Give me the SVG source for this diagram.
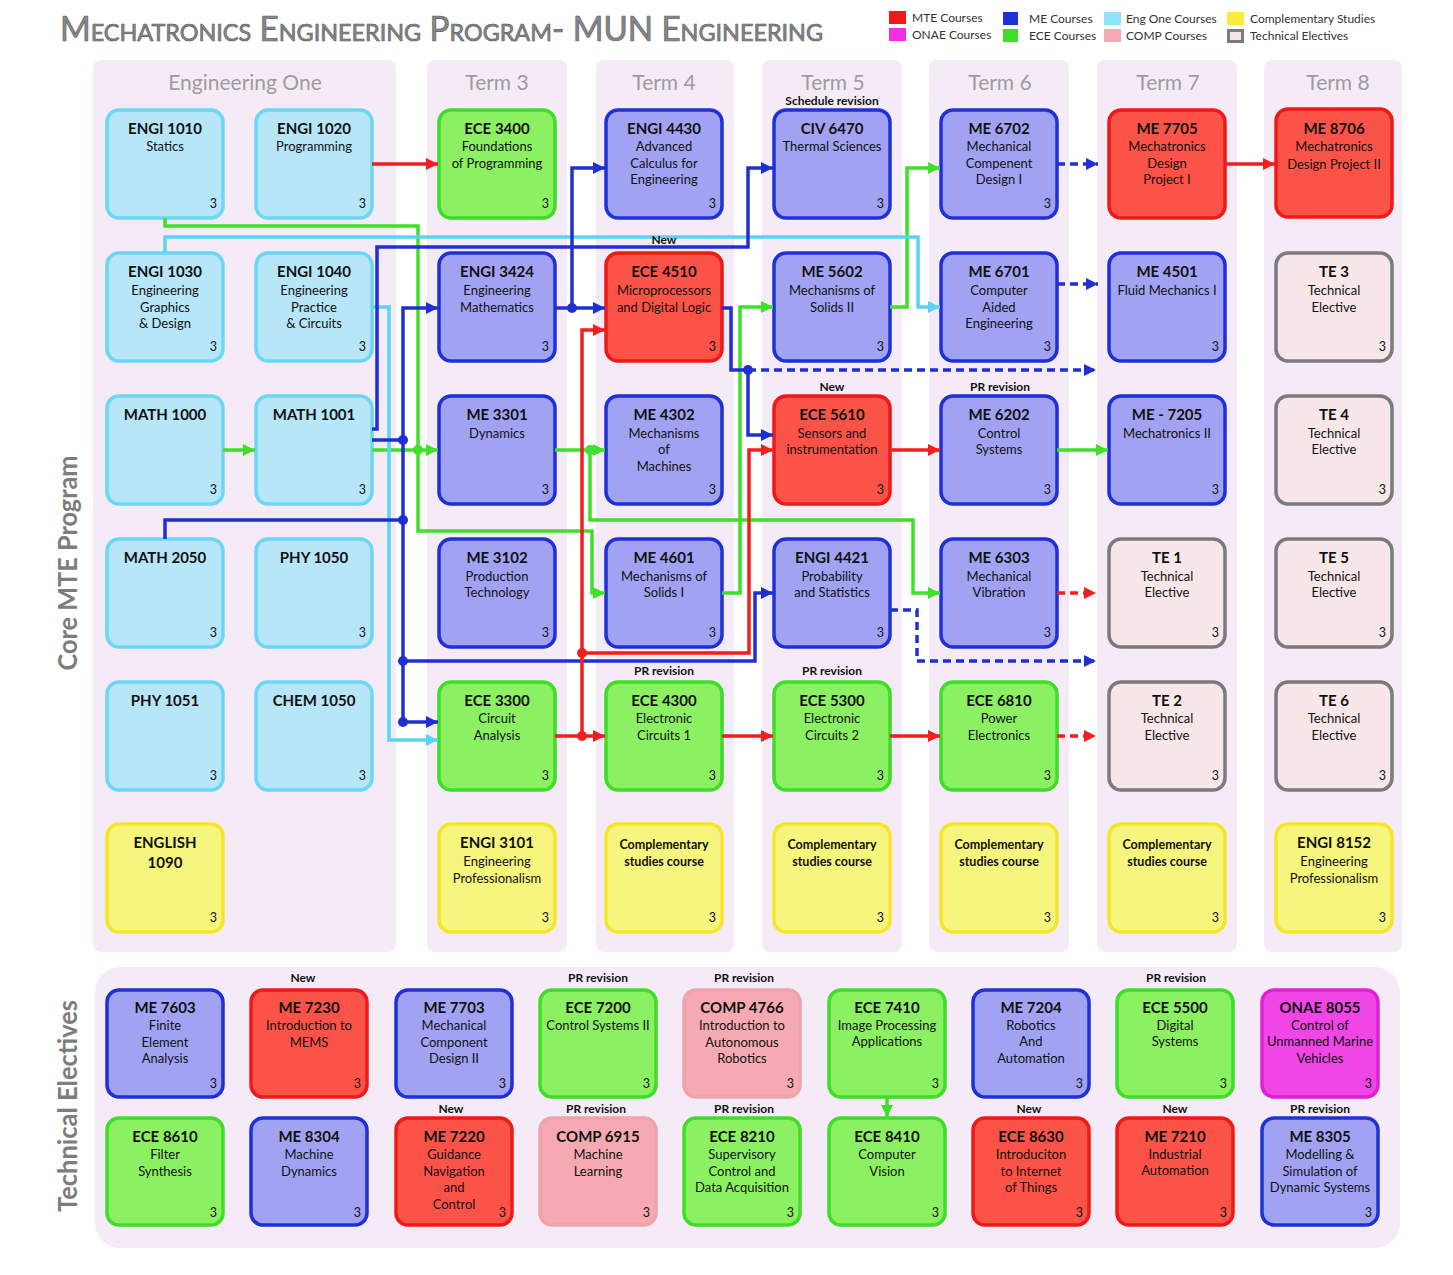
<svg xmlns="http://www.w3.org/2000/svg" width="1453" height="1275" viewBox="0 0 1453 1275">
<defs>
<style>
text{font-family:Lato,"Liberation Sans",sans-serif}
.band{fill:#f5ebf7}
.n rect{stroke-width:3.5}
.mte rect{fill:#fb5347;stroke:#ee1a1a}
.me rect{fill:#a2a2f3;stroke:#1f30d6}
.ece rect{fill:#8cf063;stroke:#3edd27}
.one rect{fill:#b6e6f8;stroke:#6cd7f4}
.cs rect{fill:#f6f57d;stroke:#f5e52a}
.comp rect{fill:#f5aab3;stroke:#f1a3ac}
.onae rect{fill:#ef46e5;stroke:#e01fd6}
.te rect{fill:#f7e7e9;stroke:#7b7b7b}
.c{font-size:15px;font-weight:bold;text-anchor:middle;fill:#111}
.cb{font-size:12.5px;font-weight:bold;text-anchor:middle;fill:#111}
.d{font-size:13px;text-anchor:middle;fill:#111}
.cr{font-size:12.5px;text-anchor:end;fill:#111}
.lab{font-size:12px;font-weight:bold;text-anchor:middle;fill:#111}
.hdr{font-size:21px;text-anchor:middle;fill:#9c9c9c}
.leg{font-size:12px;fill:#333}
.side{font-size:27px;font-weight:bold;text-anchor:middle;fill:#7d7d7d}
.w{fill:none;stroke-width:3.5}
.r{stroke:#f21d1d}
.b{stroke:#1f2fd3}
.g{stroke:#3fe02a}
.cy{stroke:#5bd3f3}
.dash{stroke-dasharray:8 5}
</style>
<marker id="ar" viewBox="0 0 10 10" refX="10" refY="5" markerWidth="14" markerHeight="12" markerUnits="userSpaceOnUse" orient="auto"><path d="M0,0 L10,5 L0,10 z" fill="#f21d1d"/></marker>
<marker id="ab" viewBox="0 0 10 10" refX="10" refY="5" markerWidth="14" markerHeight="12" markerUnits="userSpaceOnUse" orient="auto"><path d="M0,0 L10,5 L0,10 z" fill="#1f2fd3"/></marker>
<marker id="ag" viewBox="0 0 10 10" refX="10" refY="5" markerWidth="14" markerHeight="12" markerUnits="userSpaceOnUse" orient="auto"><path d="M0,0 L10,5 L0,10 z" fill="#3fe02a"/></marker>
<marker id="ac" viewBox="0 0 10 10" refX="10" refY="5" markerWidth="14" markerHeight="12" markerUnits="userSpaceOnUse" orient="auto"><path d="M0,0 L10,5 L0,10 z" fill="#5bd3f3"/></marker>
</defs>
<rect width="1453" height="1275" fill="#fff"/>

<!-- title and legend -->
<text x="60" y="41" font-size="34" font-variant="small-caps" fill="#85888a" stroke="#5f6264" stroke-width="0.7" textLength="763" lengthAdjust="spacingAndGlyphs">Mechatronics Engineering Program- MUN Engineering</text>
<g id="legend">
<rect x="889" y="11" width="17" height="13" fill="#f01818"/><text class="leg" x="912" y="22">MTE Courses</text>
<rect x="889" y="28" width="17" height="13" fill="#ef2ee5"/><text class="leg" x="912" y="39">ONAE Courses</text>
<rect x="1003" y="12" width="15" height="13" fill="#1f30d6"/><text class="leg" x="1029" y="23">ME Courses</text>
<rect x="1003" y="29" width="15" height="13" fill="#3edd27"/><text class="leg" x="1029" y="40">ECE Courses</text>
<rect x="1104" y="12" width="17" height="13" fill="#8fe3f8"/><text class="leg" x="1126" y="23">Eng One Courses</text>
<rect x="1104" y="29" width="17" height="13" fill="#f5aab3"/><text class="leg" x="1126" y="40">COMP Courses</text>
<rect x="1227" y="12" width="17" height="13" fill="#f6ee3a"/><text class="leg" x="1250" y="23">Complementary Studies</text>
<rect x="1228.5" y="30.5" width="14" height="11" fill="#f7e7e9" stroke="#7b7b7b" stroke-width="3"/><text class="leg" x="1250" y="40">Technical Electives</text>
</g>

<!-- bands -->
<g id="bands">
<rect class="band" x="93" y="60" width="303" height="892" rx="8"/>
<rect class="band" x="427" y="60" width="140" height="892" rx="8"/>
<rect class="band" x="596" y="60" width="138" height="892" rx="8"/>
<rect class="band" x="762" y="60" width="140" height="892" rx="8"/>
<rect class="band" x="929" y="60" width="140" height="892" rx="8"/>
<rect class="band" x="1097" y="60" width="140" height="892" rx="8"/>
<rect class="band" x="1264" y="60" width="138" height="892" rx="8"/>
<rect class="band" x="95" y="967" width="1305" height="281" rx="25"/>
</g>
<g id="headers">
<text class="hdr" x="245" y="90">Engineering One</text>
<text class="hdr" x="497" y="90">Term 3</text>
<text class="hdr" x="664" y="90">Term 4</text>
<text class="hdr" x="833" y="90">Term 5</text>
<text class="hdr" x="1000" y="90">Term 6</text>
<text class="hdr" x="1168" y="90">Term 7</text>
<text class="hdr" x="1338" y="90">Term 8</text>
<text class="side" transform="translate(77,563) rotate(-90)" textLength="215" lengthAdjust="spacingAndGlyphs">Core MTE Program</text>
<text class="side" transform="translate(77,1106) rotate(-90)" textLength="212" lengthAdjust="spacingAndGlyphs">Technical Electives</text>
</g>

<!-- core nodes -->
<g id="engi1010" class="n one"><rect x="107" y="110" width="116" height="108" rx="12"/><text class="c" x="165" y="134">ENGI 1010</text><text class="d" x="165" y="151">Statics</text><text class="cr" x="217" y="208">3</text></g>
<g id="engi1020" class="n one"><rect x="256" y="110" width="116" height="108" rx="12"/><text class="c" x="314" y="134">ENGI 1020</text><text class="d" x="314" y="151">Programming</text><text class="cr" x="366" y="208">3</text></g>
<g id="ece3400" class="n ece"><rect x="439" y="110" width="116" height="108" rx="12"/><text class="c" x="497" y="134">ECE 3400</text><text class="d" x="497" y="151">Foundations</text><text class="d" x="497" y="168">of Programming</text><text class="cr" x="549" y="208">3</text></g>
<g id="engi4430" class="n me"><rect x="606" y="110" width="116" height="108" rx="12"/><text class="c" x="664" y="134">ENGI 4430</text><text class="d" x="664" y="151">Advanced</text><text class="d" x="664" y="168">Calculus for</text><text class="d" x="664" y="184">Engineering</text><text class="cr" x="716" y="208">3</text></g>
<g id="civ6470" class="n me"><rect x="774" y="110" width="116" height="108" rx="12"/><text class="c" x="832" y="134">CIV 6470</text><text class="d" x="832" y="151">Thermal Sciences</text><text class="cr" x="884" y="208">3</text></g>
<g id="me6702" class="n me"><rect x="941" y="110" width="116" height="108" rx="12"/><text class="c" x="999" y="134">ME 6702</text><text class="d" x="999" y="151">Mechanical</text><text class="d" x="999" y="168">Compenent</text><text class="d" x="999" y="184">Design I</text><text class="cr" x="1051" y="208">3</text></g>
<g id="me7705" class="n mte"><rect x="1109" y="110" width="116" height="108" rx="12"/><text class="c" x="1167" y="134">ME 7705</text><text class="d" x="1167" y="151">Mechatronics</text><text class="d" x="1167" y="168">Design</text><text class="d" x="1167" y="184">Project I</text></g>
<g id="me8706" class="n mte"><rect x="1276" y="109" width="116" height="108" rx="12"/><text class="c" x="1334" y="134">ME 8706</text><text class="d" x="1334" y="151">Mechatronics</text><text class="d" x="1334" y="169">Design Project II</text></g>

<g id="engi1030" class="n one"><rect x="107" y="253" width="116" height="108" rx="12"/><text class="c" x="165" y="277">ENGI 1030</text><text class="d" x="165" y="295">Engineering</text><text class="d" x="165" y="312">Graphics</text><text class="d" x="165" y="328">&amp; Design</text><text class="cr" x="217" y="351">3</text></g>
<g id="engi1040" class="n one"><rect x="256" y="253" width="116" height="108" rx="12"/><text class="c" x="314" y="277">ENGI 1040</text><text class="d" x="314" y="295">Engineering</text><text class="d" x="314" y="312">Practice</text><text class="d" x="314" y="328">&amp; Circuits</text><text class="cr" x="366" y="351">3</text></g>
<g id="engi3424" class="n me"><rect x="439" y="253" width="116" height="108" rx="12"/><text class="c" x="497" y="277">ENGI 3424</text><text class="d" x="497" y="295">Engineering</text><text class="d" x="497" y="312">Mathematics</text><text class="cr" x="549" y="351">3</text></g>
<g id="ece4510" class="n mte"><rect x="606" y="253" width="116" height="108" rx="12"/><text class="c" x="664" y="277">ECE 4510</text><text class="d" x="664" y="295">Microprocessors</text><text class="d" x="664" y="312">and Digital Logic</text><text class="cr" x="716" y="351">3</text></g>
<g id="me5602" class="n me"><rect x="774" y="253" width="116" height="108" rx="12"/><text class="c" x="832" y="277">ME 5602</text><text class="d" x="832" y="295">Mechanisms of</text><text class="d" x="832" y="312">Solids II</text><text class="cr" x="884" y="351">3</text></g>
<g id="me6701" class="n me"><rect x="941" y="253" width="116" height="108" rx="12"/><text class="c" x="999" y="277">ME 6701</text><text class="d" x="999" y="295">Computer</text><text class="d" x="999" y="312">Aided</text><text class="d" x="999" y="328">Engineering</text><text class="cr" x="1051" y="351">3</text></g>
<g id="me4501" class="n me"><rect x="1109" y="253" width="116" height="108" rx="12"/><text class="c" x="1167" y="277">ME 4501</text><text class="d" x="1167" y="295">Fluid Mechanics I</text><text class="cr" x="1219" y="351">3</text></g>
<g id="te3" class="n te"><rect x="1276" y="253" width="116" height="108" rx="12"/><text class="c" x="1334" y="277">TE 3</text><text class="d" x="1334" y="295">Technical</text><text class="d" x="1334" y="312">Elective</text><text class="cr" x="1386" y="351">3</text></g>

<g id="math1000" class="n one"><rect x="107" y="396" width="116" height="108" rx="12"/><text class="c" x="165" y="420">MATH 1000</text><text class="cr" x="217" y="494">3</text></g>
<g id="math1001" class="n one"><rect x="256" y="396" width="116" height="108" rx="12"/><text class="c" x="314" y="420">MATH 1001</text><text class="cr" x="366" y="494">3</text></g>
<g id="me3301" class="n me"><rect x="439" y="396" width="116" height="108" rx="12"/><text class="c" x="497" y="420">ME 3301</text><text class="d" x="497" y="438">Dynamics</text><text class="cr" x="549" y="494">3</text></g>
<g id="me4302" class="n me"><rect x="606" y="396" width="116" height="108" rx="12"/><text class="c" x="664" y="420">ME 4302</text><text class="d" x="664" y="438">Mechanisms</text><text class="d" x="664" y="454">of</text><text class="d" x="664" y="471">Machines</text><text class="cr" x="716" y="494">3</text></g>
<g id="ece5610" class="n mte"><rect x="774" y="396" width="116" height="108" rx="12"/><text class="c" x="832" y="420">ECE 5610</text><text class="d" x="832" y="438">Sensors and</text><text class="d" x="832" y="454">instrumentation</text><text class="cr" x="884" y="494">3</text></g>
<g id="me6202" class="n me"><rect x="941" y="396" width="116" height="108" rx="12"/><text class="c" x="999" y="420">ME 6202</text><text class="d" x="999" y="438">Control</text><text class="d" x="999" y="454">Systems</text><text class="cr" x="1051" y="494">3</text></g>
<g id="me7205" class="n me"><rect x="1109" y="396" width="116" height="108" rx="12"/><text class="c" x="1167" y="420">ME - 7205</text><text class="d" x="1167" y="438">Mechatronics II</text><text class="cr" x="1219" y="494">3</text></g>
<g id="te4" class="n te"><rect x="1276" y="396" width="116" height="108" rx="12"/><text class="c" x="1334" y="420">TE 4</text><text class="d" x="1334" y="438">Technical</text><text class="d" x="1334" y="454">Elective</text><text class="cr" x="1386" y="494">3</text></g>

<g id="math2050" class="n one"><rect x="107" y="539" width="116" height="108" rx="12"/><text class="c" x="165" y="563">MATH 2050</text><text class="cr" x="217" y="637">3</text></g>
<g id="phy1050" class="n one"><rect x="256" y="539" width="116" height="108" rx="12"/><text class="c" x="314" y="563">PHY 1050</text><text class="cr" x="366" y="637">3</text></g>
<g id="me3102" class="n me"><rect x="439" y="539" width="116" height="108" rx="12"/><text class="c" x="497" y="563">ME 3102</text><text class="d" x="497" y="581">Production</text><text class="d" x="497" y="597">Technology</text><text class="cr" x="549" y="637">3</text></g>
<g id="me4601" class="n me"><rect x="606" y="539" width="116" height="108" rx="12"/><text class="c" x="664" y="563">ME 4601</text><text class="d" x="664" y="581">Mechanisms of</text><text class="d" x="664" y="597">Solids I</text><text class="cr" x="716" y="637">3</text></g>
<g id="engi4421" class="n me"><rect x="774" y="539" width="116" height="108" rx="12"/><text class="c" x="832" y="563">ENGI 4421</text><text class="d" x="832" y="581">Probability</text><text class="d" x="832" y="597">and Statistics</text><text class="cr" x="884" y="637">3</text></g>
<g id="me6303" class="n me"><rect x="941" y="539" width="116" height="108" rx="12"/><text class="c" x="999" y="563">ME 6303</text><text class="d" x="999" y="581">Mechanical</text><text class="d" x="999" y="597">Vibration</text><text class="cr" x="1051" y="637">3</text></g>
<g id="te1" class="n te"><rect x="1109" y="539" width="116" height="108" rx="12"/><text class="c" x="1167" y="563">TE 1</text><text class="d" x="1167" y="581">Technical</text><text class="d" x="1167" y="597">Elective</text><text class="cr" x="1219" y="637">3</text></g>
<g id="te5" class="n te"><rect x="1276" y="539" width="116" height="108" rx="12"/><text class="c" x="1334" y="563">TE 5</text><text class="d" x="1334" y="581">Technical</text><text class="d" x="1334" y="597">Elective</text><text class="cr" x="1386" y="637">3</text></g>

<g id="phy1051" class="n one"><rect x="107" y="682" width="116" height="108" rx="12"/><text class="c" x="165" y="706">PHY 1051</text><text class="cr" x="217" y="780">3</text></g>
<g id="chem1050" class="n one"><rect x="256" y="682" width="116" height="108" rx="12"/><text class="c" x="314" y="706">CHEM 1050</text><text class="cr" x="366" y="780">3</text></g>
<g id="ece3300" class="n ece"><rect x="439" y="682" width="116" height="108" rx="12"/><text class="c" x="497" y="706">ECE 3300</text><text class="d" x="497" y="723">Circuit</text><text class="d" x="497" y="740">Analysis</text><text class="cr" x="549" y="780">3</text></g>
<g id="ece4300" class="n ece"><rect x="606" y="682" width="116" height="108" rx="12"/><text class="c" x="664" y="706">ECE 4300</text><text class="d" x="664" y="723">Electronic</text><text class="d" x="664" y="740">Circuits 1</text><text class="cr" x="716" y="780">3</text></g>
<g id="ece5300" class="n ece"><rect x="774" y="682" width="116" height="108" rx="12"/><text class="c" x="832" y="706">ECE 5300</text><text class="d" x="832" y="723">Electronic</text><text class="d" x="832" y="740">Circuits 2</text><text class="cr" x="884" y="780">3</text></g>
<g id="ece6810" class="n ece"><rect x="941" y="682" width="116" height="108" rx="12"/><text class="c" x="999" y="706">ECE 6810</text><text class="d" x="999" y="723">Power</text><text class="d" x="999" y="740">Electronics</text><text class="cr" x="1051" y="780">3</text></g>
<g id="te2" class="n te"><rect x="1109" y="682" width="116" height="108" rx="12"/><text class="c" x="1167" y="706">TE 2</text><text class="d" x="1167" y="723">Technical</text><text class="d" x="1167" y="740">Elective</text><text class="cr" x="1219" y="780">3</text></g>
<g id="te6" class="n te"><rect x="1276" y="682" width="116" height="108" rx="12"/><text class="c" x="1334" y="706">TE 6</text><text class="d" x="1334" y="723">Technical</text><text class="d" x="1334" y="740">Elective</text><text class="cr" x="1386" y="780">3</text></g>

<g id="english1090" class="n cs"><rect x="107" y="824" width="116" height="108" rx="12"/><text class="c" x="165" y="848">ENGLISH</text><text class="c" x="165" y="868">1090</text><text class="cr" x="217" y="922">3</text></g>
<g id="engi3101" class="n cs"><rect x="439" y="824" width="116" height="108" rx="12"/><text class="c" x="497" y="848">ENGI 3101</text><text class="d" x="497" y="866">Engineering</text><text class="d" x="497" y="883">Professionalism</text><text class="cr" x="549" y="922">3</text></g>
<g id="cs4" class="n cs"><rect x="606" y="824" width="116" height="108" rx="12"/><text class="cb" x="664" y="849">Complementary</text><text class="cb" x="664" y="866">studies course</text><text class="cr" x="716" y="922">3</text></g>
<g id="cs5" class="n cs"><rect x="774" y="824" width="116" height="108" rx="12"/><text class="cb" x="832" y="849">Complementary</text><text class="cb" x="832" y="866">studies course</text><text class="cr" x="884" y="922">3</text></g>
<g id="cs6" class="n cs"><rect x="941" y="824" width="116" height="108" rx="12"/><text class="cb" x="999" y="849">Complementary</text><text class="cb" x="999" y="866">studies course</text><text class="cr" x="1051" y="922">3</text></g>
<g id="cs7" class="n cs"><rect x="1109" y="824" width="116" height="108" rx="12"/><text class="cb" x="1167" y="849">Complementary</text><text class="cb" x="1167" y="866">studies course</text><text class="cr" x="1219" y="922">3</text></g>
<g id="engi8152" class="n cs"><rect x="1276" y="824" width="116" height="108" rx="12"/><text class="c" x="1334" y="848">ENGI 8152</text><text class="d" x="1334" y="866">Engineering</text><text class="d" x="1334" y="883">Professionalism</text><text class="cr" x="1386" y="922">3</text></g>

<!-- technical electives -->
<g id="me7603" class="n me"><rect x="107" y="990" width="116" height="107" rx="12"/><text class="c" x="165" y="1013">ME 7603</text><text class="d" x="165" y="1030">Finite</text><text class="d" x="165" y="1047">Element</text><text class="d" x="165" y="1063">Analysis</text><text class="cr" x="217" y="1088">3</text></g>
<g id="me7230" class="n mte"><rect x="251" y="990" width="116" height="107" rx="12"/><text class="c" x="309" y="1013">ME 7230</text><text class="d" x="309" y="1030">Introduction to</text><text class="d" x="309" y="1047">MEMS</text><text class="cr" x="361" y="1088">3</text></g>
<g id="me7703" class="n me"><rect x="396" y="990" width="116" height="107" rx="12"/><text class="c" x="454" y="1013">ME 7703</text><text class="d" x="454" y="1030">Mechanical</text><text class="d" x="454" y="1047">Component</text><text class="d" x="454" y="1063">Design II</text><text class="cr" x="506" y="1088">3</text></g>
<g id="ece7200" class="n ece"><rect x="540" y="990" width="116" height="107" rx="12"/><text class="c" x="598" y="1013">ECE 7200</text><text class="d" x="598" y="1030">Control Systems II</text><text class="cr" x="650" y="1088">3</text></g>
<g id="comp4766" class="n comp"><rect x="684" y="990" width="116" height="107" rx="12"/><text class="c" x="742" y="1013">COMP 4766</text><text class="d" x="742" y="1030">Introduction to</text><text class="d" x="742" y="1047">Autonomous</text><text class="d" x="742" y="1063">Robotics</text><text class="cr" x="794" y="1088">3</text></g>
<g id="ece7410" class="n ece"><rect x="829" y="990" width="116" height="107" rx="12"/><text class="c" x="887" y="1013">ECE 7410</text><text class="d" x="887" y="1030">Image Processing</text><text class="d" x="887" y="1046">Applications</text><text class="cr" x="939" y="1088">3</text></g>
<g id="me7204" class="n me"><rect x="973" y="990" width="116" height="107" rx="12"/><text class="c" x="1031" y="1013">ME 7204</text><text class="d" x="1031" y="1030">Robotics</text><text class="d" x="1031" y="1046">And</text><text class="d" x="1031" y="1063">Automation</text><text class="cr" x="1083" y="1088">3</text></g>
<g id="ece5500" class="n ece"><rect x="1117" y="990" width="116" height="107" rx="12"/><text class="c" x="1175" y="1013">ECE 5500</text><text class="d" x="1175" y="1030">Digital</text><text class="d" x="1175" y="1046">Systems</text><text class="cr" x="1227" y="1088">3</text></g>
<g id="onae8055" class="n onae"><rect x="1262" y="990" width="116" height="107" rx="12"/><text class="c" x="1320" y="1013">ONAE 8055</text><text class="d" x="1320" y="1030">Control of</text><text class="d" x="1320" y="1046">Unmanned Marine</text><text class="d" x="1320" y="1063">Vehicles</text><text class="cr" x="1372" y="1088">3</text></g>

<g id="ece8610" class="n ece"><rect x="107" y="1118" width="116" height="107" rx="12"/><text class="c" x="165" y="1142">ECE 8610</text><text class="d" x="165" y="1159">Filter</text><text class="d" x="165" y="1176">Synthesis</text><text class="cr" x="217" y="1217">3</text></g>
<g id="me8304" class="n me"><rect x="251" y="1118" width="116" height="107" rx="12"/><text class="c" x="309" y="1142">ME 8304</text><text class="d" x="309" y="1159">Machine</text><text class="d" x="309" y="1176">Dynamics</text><text class="cr" x="361" y="1217">3</text></g>
<g id="me7220" class="n mte"><rect x="396" y="1118" width="116" height="107" rx="12"/><text class="c" x="454" y="1142">ME 7220</text><text class="d" x="454" y="1159">Guidance</text><text class="d" x="454" y="1176">Navigation</text><text class="d" x="454" y="1192">and</text><text class="d" x="454" y="1209">Control</text><text class="cr" x="506" y="1217">3</text></g>
<g id="comp6915" class="n comp"><rect x="540" y="1118" width="116" height="107" rx="12"/><text class="c" x="598" y="1142">COMP 6915</text><text class="d" x="598" y="1159">Machine</text><text class="d" x="598" y="1176">Learning</text><text class="cr" x="650" y="1217">3</text></g>
<g id="ece8210" class="n ece"><rect x="684" y="1118" width="116" height="107" rx="12"/><text class="c" x="742" y="1142">ECE 8210</text><text class="d" x="742" y="1159">Supervisory</text><text class="d" x="742" y="1176">Control and</text><text class="d" x="742" y="1192">Data Acquisition</text><text class="cr" x="794" y="1217">3</text></g>
<g id="ece8410" class="n ece"><rect x="829" y="1118" width="116" height="107" rx="12"/><text class="c" x="887" y="1142">ECE 8410</text><text class="d" x="887" y="1159">Computer</text><text class="d" x="887" y="1176">Vision</text><text class="cr" x="939" y="1217">3</text></g>
<g id="ece8630" class="n mte"><rect x="973" y="1118" width="116" height="107" rx="12"/><text class="c" x="1031" y="1142">ECE 8630</text><text class="d" x="1031" y="1159">Introduciton</text><text class="d" x="1031" y="1176">to Internet</text><text class="d" x="1031" y="1192">of Things</text><text class="cr" x="1083" y="1217">3</text></g>
<g id="me7210" class="n mte"><rect x="1117" y="1118" width="116" height="107" rx="12"/><text class="c" x="1175" y="1142">ME 7210</text><text class="d" x="1175" y="1159">Industrial</text><text class="d" x="1175" y="1175">Automation</text><text class="cr" x="1227" y="1217">3</text></g>
<g id="me8305" class="n me"><rect x="1262" y="1118" width="116" height="107" rx="12"/><text class="c" x="1320" y="1142">ME 8305</text><text class="d" x="1320" y="1159">Modelling &amp;</text><text class="d" x="1320" y="1176">Simulation of</text><text class="d" x="1320" y="1192">Dynamic Systems</text><text class="cr" x="1372" y="1217">3</text></g>

<!-- connectors -->
<g id="connectors">
<path class="w r" d="M372,164 H438" marker-end="url(#ar)"/>
<path class="w g" d="M165,218 V226 H418 V531 H592 V593 H605" marker-end="url(#ag)"/>
<path class="w g" d="M223,450 H255" marker-end="url(#ag)"/>
<path class="w g" d="M372,450 H438" marker-end="url(#ag)"/>
<path class="w g" d="M555,450 H605" marker-end="url(#ag)"/>
<path class="w g" d="M590,450 V520 H913 V593 H940" marker-end="url(#ag)"/>
<path class="w g" d="M722,593 H740 V307 H773" marker-end="url(#ag)"/>
<path class="w g" d="M890,307 H907 V168 H940" marker-end="url(#ag)"/>
<path class="w g" d="M1057,450 H1108" marker-end="url(#ag)"/>
<path class="w g" d="M887,1097 V1117" marker-end="url(#ag)"/>
<path class="w cy" d="M165,253 V237 H918 V307 H940" marker-end="url(#ac)"/>
<path class="w cy" d="M372,307 H389 V740 H438" marker-end="url(#ac)"/>
<path class="w b" d="M372,429 H377 V247 H748 V168 H773" marker-end="url(#ab)"/>
<path class="w b" d="M372,440 H403"/>
<path class="w b" d="M403,440 V308 H438" marker-end="url(#ab)"/>
<path class="w b" d="M403,440 V722 H438" marker-end="url(#ab)"/>
<path class="w b" d="M165,539 V520 H403"/>
<path class="w b" d="M403,661 H755 V593 H773" marker-end="url(#ab)"/>
<path class="w b" d="M555,308 H605" marker-end="url(#ab)"/>
<path class="w b" d="M572,308 V168 H605" marker-end="url(#ab)"/>
<path class="w b" d="M722,308 H731 V370 H748"/>
<path class="w b" d="M748,370 V435 H773" marker-end="url(#ab)"/>
<path class="w b dash" d="M748,370 H1096" marker-end="url(#ab)"/>
<path class="w b dash" d="M890,610 H917 V661 H1096" marker-end="url(#ab)"/>
<path class="w b dash" d="M1057,164 H1098" marker-end="url(#ab)"/>
<path class="w b dash" d="M1057,284 H1098" marker-end="url(#ab)"/>
<path class="w r dash" d="M1057,593 H1096" marker-end="url(#ar)"/>
<path class="w r dash" d="M1057,736 H1096" marker-end="url(#ar)"/>
<path class="w r" d="M1225,164 H1275" marker-end="url(#ar)"/>
<path class="w r" d="M890,450 H940" marker-end="url(#ar)"/>
<path class="w r" d="M555,736 H605" marker-end="url(#ar)"/>
<path class="w r" d="M582,736 V330 H605" marker-end="url(#ar)"/>
<path class="w r" d="M582,653 H749 V450 H773" marker-end="url(#ar)"/>
<path class="w r" d="M722,736 H773" marker-end="url(#ar)"/>
<path class="w r" d="M890,736 H940" marker-end="url(#ar)"/>
<g fill="#1f2fd3"><circle cx="403" cy="440" r="5"/><circle cx="403" cy="520" r="5"/><circle cx="403" cy="661" r="5"/><circle cx="403" cy="722" r="5"/><circle cx="572" cy="308" r="5"/><circle cx="748" cy="370" r="5"/></g>
<g fill="#3fe02a"><circle cx="418" cy="450" r="5"/><circle cx="590" cy="450" r="5"/></g>
<g fill="#f21d1d"><circle cx="582" cy="736" r="5"/><circle cx="582" cy="653" r="5"/></g>
</g>

<g id="labels">
<text class="lab" x="832" y="105">Schedule revision</text>
<text class="lab" x="664" y="244">New</text>
<text class="lab" x="832" y="391">New</text>
<text class="lab" x="1000" y="391">PR revision</text>
<text class="lab" x="664" y="675">PR revision</text>
<text class="lab" x="832" y="675">PR revision</text>
<text class="lab" x="303" y="982">New</text>
<text class="lab" x="598" y="982">PR revision</text>
<text class="lab" x="744" y="982">PR revision</text>
<text class="lab" x="1176" y="982">PR revision</text>
<text class="lab" x="451" y="1113">New</text>
<text class="lab" x="596" y="1113">PR revision</text>
<text class="lab" x="744" y="1113">PR revision</text>
<text class="lab" x="1029" y="1113">New</text>
<text class="lab" x="1175" y="1113">New</text>
<text class="lab" x="1320" y="1113">PR revision</text>
</g>
</svg>
